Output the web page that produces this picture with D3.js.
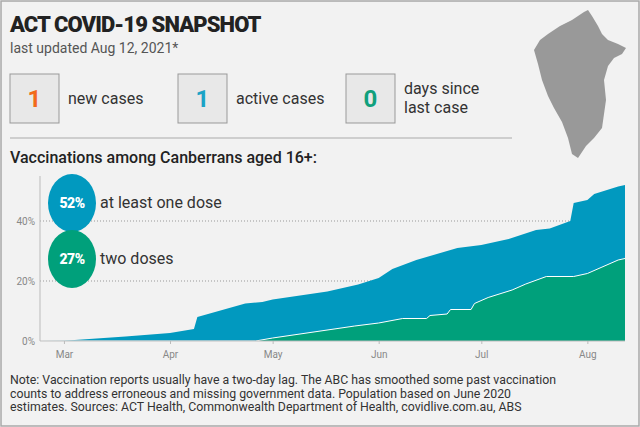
<!DOCTYPE html>
<html lang="en">
<head>
<meta charset="UTF-8">
<title>ACT COVID-19 Snapshot</title>
<script src="https://d3js.org/d3.v7.min.js"></script>
<style>
  body { margin: 0; background: #fff; }
  text { font-family: Roboto, "Open Sans", sans-serif; }
</style>
</head>
<body>
<svg width="640" height="427"></svg>
<script>
// data
const firstDates = ["2021-02-22","2021-03-01","2021-03-19","2021-04-01","2021-04-08","2021-04-09","2021-04-23","2021-04-28","2021-05-01","2021-05-17","2021-05-26","2021-06-01","2021-06-05","2021-06-12","2021-06-18","2021-06-24","2021-07-01","2021-07-09","2021-07-17","2021-07-21","2021-07-27","2021-07-28","2021-08-01","2021-08-03","2021-08-10","2021-08-12"];
const firstDose  = [0, 0.1, 1.5, 2.7, 4.0, 8.0, 12.5, 13, 13.8, 16.5, 18.8, 21, 24, 27, 29, 31, 32, 34, 37, 37.5, 40, 46, 47, 49, 51.5, 52];
const secondDates = ["2021-02-22","2021-04-26","2021-05-01","2021-05-25","2021-06-01","2021-06-08","2021-06-15","2021-06-16","2021-06-21","2021-06-22","2021-06-28","2021-06-29","2021-07-03","2021-07-10","2021-07-14","2021-07-20","2021-07-28","2021-08-01","2021-08-05","2021-08-10","2021-08-12"];
const secondDose  = [0, 0, 1, 5, 6, 7.5, 7.5, 8.5, 9, 10.5, 10.5, 12.5, 14.5, 17, 19, 21.5, 21.5, 22.5, 24.5, 27, 27.5];
const yTicks = [0, 20, 40];
const monthTicks = ["2021-03-01","2021-04-01","2021-05-01","2021-06-01","2021-07-01","2021-08-01"];
const stats = [{v: "1", label: ["new cases"], color: "#f26a1b"},
               {v: "1", label: ["active cases"], color: "#1ba3c6"},
               {v: "0", label: ["days since", "last case"], color: "#10a07c"}];
const actShape = [[52,2],[56,0],[60,6],[66,16],[70,24],[76,30],[86,34],[94,38],[90,44],[82,48],[76,56],[72,70],[74,90],[72,104],[70,118],[62,128],[54,136],[46,148],[40,144],[36,128],[30,112],[22,98],[16,86],[10,70],[6,54],[2,40],[8,30],[16,24],[28,16],[40,10]];

const parse = d3.timeParse("%Y-%m-%d");
const blue = "#0199bf", green = "#00a07b";
const svg = d3.select("svg");

svg.append("rect").attr("x", 1).attr("y", 1).attr("width", 638).attr("height", 425)
  .attr("fill", "#f2f2f2").attr("stroke", "#a8a8a8").attr("stroke-width", 1.5);

svg.append("text").attr("x", 10).attr("y", 32).attr("font-size", 22).attr("font-weight", 900)
  .attr("fill", "#222").attr("letter-spacing", -0.9).text("ACT COVID-19 SNAPSHOT");
svg.append("text").attr("x", 10).attr("y", 53).attr("font-size", 14).attr("fill", "#555")
  .text("last updated Aug 12, 2021*");

// stat boxes
const boxX = [10, 178, 346];
stats.forEach((s, i) => {
  const g = svg.append("g").attr("transform", `translate(${boxX[i]},74)`);
  g.append("rect").attr("width", 49).attr("height", 49).attr("fill", "#e8e8e8").attr("stroke", "#999");
  g.append("text").attr("x", 24.5).attr("y", 33).attr("text-anchor", "middle")
    .attr("font-size", 24).attr("font-weight", 700).attr("fill", s.color).text(s.v);
  s.label.forEach((l, j) => {
    g.append("text").attr("x", 58).attr("y", s.label.length === 1 ? 30 : 20 + j * 19)
      .attr("font-size", 16).attr("fill", "#333").text(l);
  });
});

svg.append("line").attr("x1", 10).attr("x2", 512).attr("y1", 138).attr("y2", 138).attr("stroke", "#aaa");
svg.append("text").attr("x", 10).attr("y", 163).attr("font-size", 16).attr("font-weight", 500)
  .attr("fill", "#222").text("Vaccinations among Canberrans aged 16+:");

// map
const mx = d3.scaleLinear().domain([0, 94]).range([532, 626]);
const my = d3.scaleLinear().domain([0, 148]).range([10, 158]);
svg.append("path").datum(actShape).attr("fill", "#999")
  .attr("d", d3.line().x(d => mx(d[0])).y(d => my(d[1])).curve(d3.curveLinearClosed));

// chart
const x = d3.scaleTime().domain([parse("2021-02-22"), parse("2021-08-12")]).range([40, 625]);
const y = d3.scaleLinear().domain([0, 55]).range([341, 176]);

svg.append("g").selectAll("line").data(yTicks.filter(d => d > 0)).join("line")
  .attr("x1", 40).attr("x2", 625).attr("y1", d => y(d)).attr("y2", d => y(d))
  .attr("stroke", "#999").attr("stroke-dasharray", "1,2");

const area = (dates, vals) => d3.area().x((d, i) => x(parse(dates[i]))).y0(y(0)).y1(d => y(d))(vals);
svg.append("path").attr("d", area(firstDates, firstDose)).attr("fill", blue);
svg.append("path").attr("d", area(secondDates, secondDose)).attr("fill", green);
svg.append("path").datum(secondDose)
  .attr("d", d3.line().x((d, i) => x(parse(secondDates[i]))).y(d => y(d)))
  .attr("fill", "none").attr("stroke", "#fff").attr("stroke-width", 1);

svg.append("line").attr("x1", 40).attr("x2", 40).attr("y1", 176).attr("y2", 341).attr("stroke", "#bbb");
svg.append("line").attr("x1", 40).attr("x2", 625).attr("y1", 341).attr("y2", 341).attr("stroke", "#bbb");

svg.append("g").selectAll("text").data(yTicks).join("text")
  .attr("x", 35).attr("y", d => y(d) + 4).attr("text-anchor", "end")
  .attr("font-size", 10).attr("fill", "#888").text(d => d + "%");

const xa = svg.append("g").attr("transform", "translate(0,341)")
  .call(d3.axisBottom(x).tickValues(monthTicks.map(parse)).tickFormat(d3.timeFormat("%b")).tickSize(3));
xa.select(".domain").remove();
xa.selectAll("line").attr("stroke", "#bbb");
xa.selectAll("text").attr("font-size", 10).attr("fill", "#888").attr("dy", "1.1em")
  .attr("font-family", "Roboto, sans-serif");

// legend bubbles
[{v: "52%", t: "at least one dose", c: blue, cy: 203}, {v: "27%", t: "two doses", c: green, cy: 259}].forEach(b => {
  svg.append("ellipse").attr("cx", 72).attr("cy", b.cy).attr("rx", 24).attr("ry", 29).attr("fill", b.c);
  svg.append("text").attr("x", 72).attr("y", b.cy + 5).attr("text-anchor", "middle")
    .attr("font-size", 14).attr("font-weight", 900).attr("fill", "#fff").attr("letter-spacing", -0.5).text(b.v);
  svg.append("text").attr("x", 100).attr("y", b.cy + 5).attr("font-size", 16).attr("fill", "#333").text(b.t);
});

// note
const note = ["Note: Vaccination reports usually have a two-day lag. The ABC has smoothed some past vaccination",
  "counts to address erroneous and missing government data. Population based on June 2020",
  "estimates. Sources: ACT Health, Commonwealth Department of Health, covidlive.com.au, ABS"];
svg.append("g").selectAll("text").data(note).join("text")
  .attr("x", 10).attr("y", (d, i) => 384 + i * 13.5).attr("font-size", 12.3).attr("fill", "#333").text(d => d);
</script>
</body>
</html>
